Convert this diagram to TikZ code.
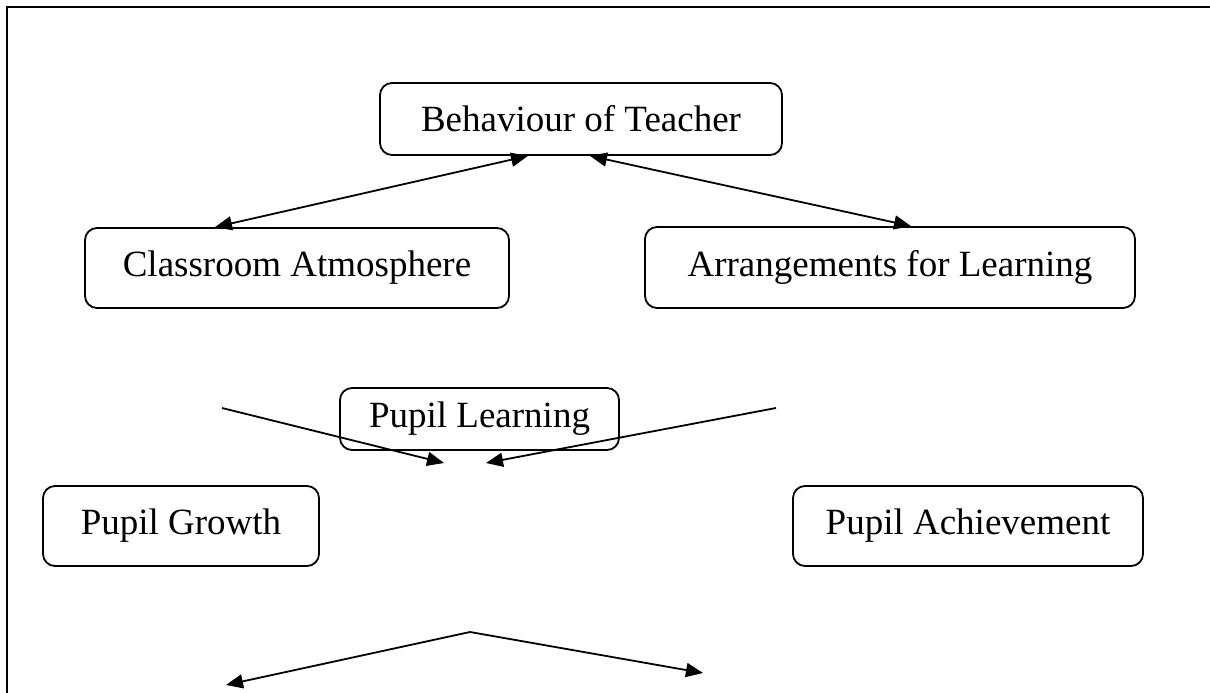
\documentclass[tikz,border=0pt]{standalone}
\usepackage{fontspec}
\setmainfont{Liberation Serif}
\usetikzlibrary{arrows.meta}

\tikzset{
  box/.style={draw, line width=1.8pt, rounded corners=12pt, align=center,
    inner sep=0pt, font=\fontsize{37}{42}\selectfont},
  link/.style={line width=1.8pt, -{Triangle[length=17pt,width=14pt]}},
  twolink/.style={line width=1.8pt, {Triangle[length=17pt,width=14pt]}-{Triangle[length=17pt,width=14pt]}}
}

\begin{document}
\begin{tikzpicture}[x=1pt,y=-1pt]
  \useasboundingbox (0,0) rectangle (1210,693);

  % frame
  \draw[line width=2.5pt] (7,693) -- (7,7) -- (1210,7);

  % boxes
  \node[box, minimum width=402pt, minimum height=72pt] (teacher) at (581,119) {Behaviour of Teacher};
  \node[box, minimum width=424pt, minimum height=80pt] (atmos) at (297,268) {Classroom Atmosphere};
  \node[box, minimum width=490pt, minimum height=81pt] (arrange) at (890,267.5) {Arrangements for Learning};
  \node[box, minimum width=279pt, minimum height=62pt] (learning) at (479.5,419) {Pupil Learning};
  \node[box, minimum width=276pt, minimum height=80pt] (growth) at (181,526) {Pupil Growth};
  \node[box, minimum width=350pt, minimum height=80pt] (achieve) at (968,526) {Pupil Achievement};

  % free ends
  \coordinate (inL) at (222,408);
  \coordinate (inR) at (776,408);
  \coordinate (tipL) at (444,463);
  \coordinate (tipR) at (486,463);
  \coordinate (apex) at (470,632);
  \coordinate (outL) at (226,685);
  \coordinate (outR) at (703,673);

  % connectors
  \draw[twolink] ([xshift=-82pt]atmos.north) -- ([xshift=-53pt]teacher.south);
  \draw[twolink] ([xshift=9pt]teacher.south) -- ([xshift=21pt]arrange.north);
  \draw[link] (inL) -- (tipL);
  \draw[link] (inR) -- (tipR);
  \draw[link] (apex) -- (outL);
  \draw[link] (apex) -- (outR);
\end{tikzpicture}
\end{document}
